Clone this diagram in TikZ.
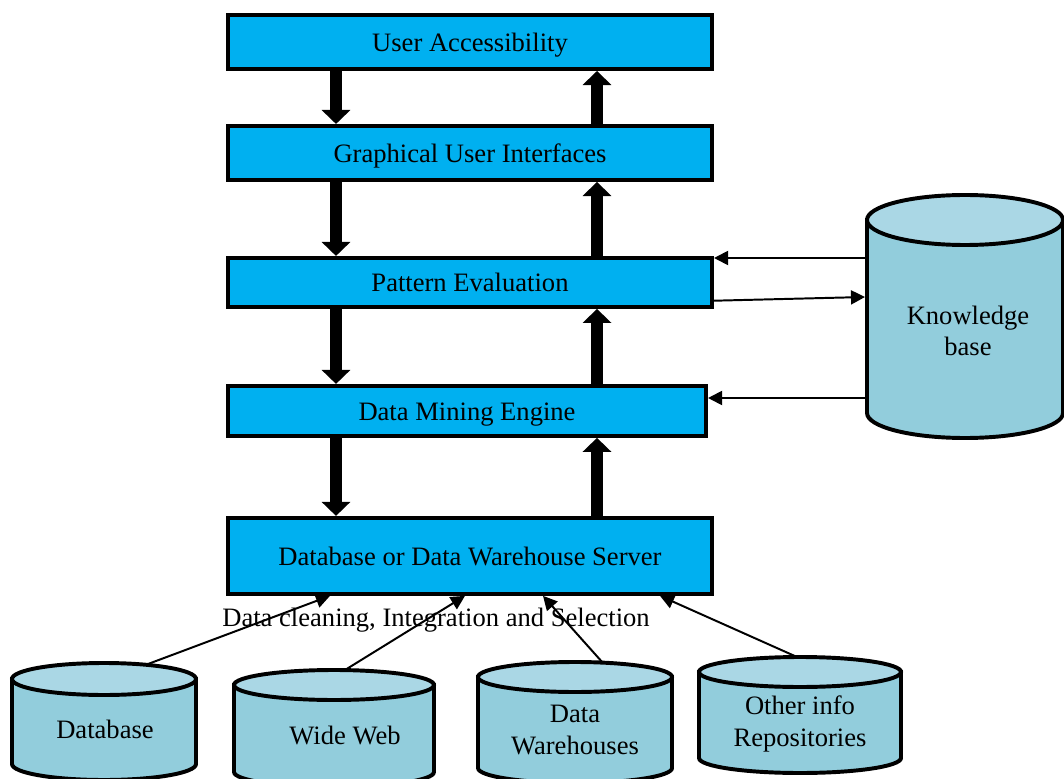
\documentclass[tikz,border=0pt]{standalone}
\usepackage{fontspec}
\setmainfont{Liberation Serif}
\usetikzlibrary{positioning,arrows.meta}
\definecolor{boxblue}{RGB}{0,176,240}
\definecolor{cylbody}{RGB}{146,205,220}
\definecolor{cyltop}{RGB}{170,215,229}

% cx, top y, bottom y, x radius, y radius
\newcommand{\datastore}[5]{%
	\filldraw[store,fill=cylbody] (#1-#4,#2) -- (#1-#4,#3) arc[start angle=180,end angle=360,x radius=#4,y radius=#5] -- (#1+#4,#2) -- cycle;
	\filldraw[store,fill=cyltop] (#1,#2) ellipse[x radius=#4,y radius=#5];
}

\begin{document}
\begin{tikzpicture}[x=0.025cm,y=0.025cm,
						box/.style={rectangle,draw,line width=2.8pt,fill=boxblue,minimum width=12.1cm,minimum height=1.35cm,inner sep=0pt,text height=17pt,text depth=4pt},
						store/.style={draw,line width=2.8pt},
						bigarrow/.style={line width=8.5pt,-{Triangle[length=10pt,width=20pt]}},
						thinarrow/.style={line width=1.4pt,-{Triangle[length=10pt,width=10pt]}},
						font=\fontsize{18.9}{22.5}\selectfont]
		\useasboundingbox (0,0) rectangle (1064,778);
		\clip (0,0) rectangle (1064,778);

		% layers
		\node[box]													(access)	at (470,736)	{User Accessibility};
		\node[box,below=1.325cm of access]							(gui)		{Graphical User Interfaces};
		\node[box,minimum height=1.225cm,below=1.85cm of gui]		(pattern)	{Pattern Evaluation};
		\node[box,minimum width=11.95cm,minimum height=1.25cm,below=1.875cm of pattern,xshift=-0.075cm]	(engine)	{Data Mining Engine};
		\node[box,minimum height=1.9cm,below=1.95cm of engine,xshift=0.075cm]	(server)	{Database or Data Warehouse Server};

		\coordinate (down)	at (336,0);
		\coordinate (up)	at (597,0);
		\foreach \a/\b in {access/gui,gui/pattern,pattern/engine,engine/server}{
			\draw[bigarrow] (\a.south -| down) -- (\b.north -| down);
			\draw[bigarrow] (\b.north -| up) -- (\a.south -| up);
		}

		% knowledge base
		\datastore{965}{558}{365}{98}{25}
		\node[align=center]		(kb)	at (968,447)	{Knowledge\\base};
		\coordinate (kbin1)		at (867,520);
		\coordinate (kbout)		at (865,481);
		\coordinate (kbin2)		at (867,380);
		\draw[thinarrow] (kbin1) -- (kbin1 -| pattern.east);
		\draw[thinarrow] ([yshift=-13pt]pattern.east) -- (kbout);
		\draw[thinarrow] (kbin2) -- (kbin2 -| engine.east);

		% sources
		\datastore{104}{99}{14}{92}{16}
		\datastore{334}{93}{6}{100}{15}
		\datastore{575}{101}{10}{97}{15}
		\datastore{800}{106}{20}{101}{15}
		\node					(database)	at (105,49)		{Database};
		\node					(web)		at (345,43)		{Wide Web};
		\node[align=center]		(warehouse)	at (575,48)		{Data\\Warehouses};
		\node[align=center]		(repos)		at (800,54)		{Other info\\Repositories};
		\node					(cleaning)	at (436,158)	{Data cleaning, Integration and Selection};

		\coordinate (dbtop)		at (148,114);
		\coordinate (webtop)	at (345,108);
		\coordinate (dwtop)		at (603,115);
		\coordinate (repotop)	at (797,121);
		\coordinate (in1)		at (330,0);
		\coordinate (in2)		at (465,0);
		\coordinate (in3)		at (543,0);
		\coordinate (in4)		at (660,0);
		\draw[thinarrow] (dbtop) -- (server.south -| in1);
		\draw[thinarrow] (webtop) -- (server.south -| in2);
		\draw[thinarrow] (dwtop) -- (server.south -| in3);
		\draw[thinarrow] (repotop) -- (server.south -| in4);
	\end{tikzpicture}
\end{document}
